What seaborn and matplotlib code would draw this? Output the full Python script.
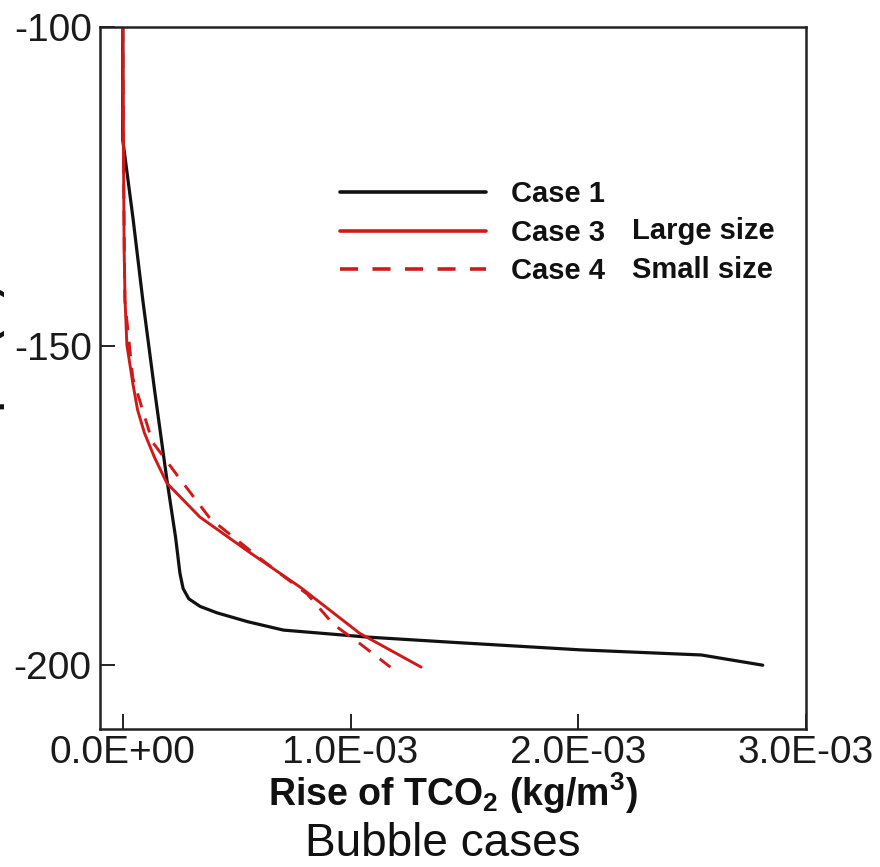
import matplotlib
matplotlib.use("Agg")
import matplotlib.pyplot as plt
import seaborn as sns
import pandas as pd
from matplotlib.ticker import FixedLocator, FixedFormatter

# ---- data ----
case1_depth = [-100.0, -117.7, -130.0, -142.8, -157.0, -171.0, -180.0, -185.6, -188.0, -189.6,
               -190.8, -191.8, -193.2, -194.5, -195.6, -196.4, -197.6, -198.4, -200.0]
case1_rise = [0.0, 0.0, 0.045e-3, 0.088e-3, 0.14e-3, 0.194e-3, 0.232e-3, 0.251e-3, 0.265e-3, 0.29e-3,
              0.34e-3, 0.414e-3, 0.55e-3, 0.705e-3, 1.075e-3, 1.44e-3, 2.01e-3, 2.54e-3, 2.81e-3]

case3_depth = [-100.0, -119.3, -135.0, -142.8, -149.8, -155.8, -160.0, -163.6, -167.5, -171.5,
               -176.8, -182.4, -187.8, -195.0, -200.3]
case3_rise = [0.0, 0.003e-3, 0.006e-3, 0.010e-3, 0.018e-3, 0.044e-3, 0.065e-3, 0.095e-3, 0.14e-3, 0.194e-3,
              0.339e-3, 0.56e-3, 0.78e-3, 1.04e-3, 1.31e-3]

case4_depth = [-100.0, -120.0, -142.8, -155.0, -165.0, -170.2, -177.0, -183.3, -188.9,
               -193.6, -196.7, -200.3]
case4_rise = [0.0, 0.003e-3, 0.009e-3, 0.044e-3, 0.13e-3, 0.238e-3, 0.383e-3, 0.604e-3, 0.811e-3,
              0.925e-3, 1.044e-3, 1.175e-3]

case_labels = ["Case 1", "Case 3", "Case 4"]
size_notes = ["Large size", "Small size"]
x_ticks = [0.0, 1.0e-3, 2.0e-3, 3.0e-3]
x_tick_labels = ["0.0E+00", "1.0E-03", "2.0E-03", "3.0E-03"]
y_ticks = [-100, -150, -200]
y_tick_labels = ["-100", "-150", "-200"]
x_label = "Rise of TCO$_\\mathbf{2}$ (kg/m$^\\mathbf{3}$)"
y_label = "Depth (m)"
caption = "Bubble cases"

df = pd.concat([
    pd.DataFrame({"rise": case1_rise, "depth": case1_depth, "case": case_labels[0]}),
    pd.DataFrame({"rise": case3_rise, "depth": case3_depth, "case": case_labels[1]}),
    pd.DataFrame({"rise": case4_rise, "depth": case4_depth, "case": case_labels[2]}),
], ignore_index=True)

sns.set_style("ticks")
plt.rcParams["font.family"] = ["Liberation Sans", "DejaVu Sans"]
plt.rcParams["mathtext.fontset"] = "custom"
plt.rcParams["mathtext.rm"] = "Liberation Sans"
plt.rcParams["mathtext.bf"] = "Liberation Sans:bold"
plt.rcParams["text.color"] = "#111111"
plt.rcParams["axes.labelcolor"] = "#111111"

fig = plt.figure(figsize=(8.8, 8.67), dpi=100)
ax = fig.add_axes([100 / 880, 1 - 729 / 867, 706 / 880, 702 / 867])

red = "#cf1a1a"
styles = {
    case_labels[0]: dict(color="#111111", lw=2.3),
    case_labels[1]: dict(color=red, lw=2.1),
    case_labels[2]: dict(color=red, lw=2.1, dashes=(5, 4)),
}
for lab in case_labels:
    sub = df[df["case"] == lab]
    st = styles[lab]
    line_kw = {"dashes": st["dashes"]} if "dashes" in st else {}
    sns.lineplot(data=sub, x="rise", y="depth", sort=False, estimator=None,
                 color=st["color"], linewidth=st["lw"], label=lab, ax=ax, **line_kw)

ax.set_xlim(-1.0e-4, 3.0e-3)
ax.set_ylim(-210, -100)
ax.xaxis.set_major_locator(FixedLocator(x_ticks))
ax.xaxis.set_major_formatter(FixedFormatter(x_tick_labels))
ax.yaxis.set_major_locator(FixedLocator(y_ticks))
ax.yaxis.set_major_formatter(FixedFormatter(y_tick_labels))
ax.tick_params(direction="in", length=11, width=1.4, labelsize=28, pad=6,
               color="#222222", labelcolor="#1a1a1a")
ax.tick_params(axis="x", pad=4)
for s in ax.spines.values():
    s.set_linewidth(1.8)
    s.set_color("#222222")

ax.set_xlabel(x_label, fontsize=27, fontweight="bold", labelpad=0)
ax.set_ylabel(y_label, fontsize=27, fontweight="bold")
ax.yaxis.set_label_coords(-0.135, 0.51)

leg = ax.legend(loc="upper left", bbox_to_anchor=(0.34, 0.7815), frameon=False,
                handlelength=5.0, handletextpad=0.85, labelspacing=0.36,
                borderpad=0, borderaxespad=0,
                prop={"family": "Liberation Sans", "weight": "bold", "size": 21})
for h in leg.get_lines():
    h.set_linewidth(2.6)
ax.text(0.7535, 0.709, size_notes[0], transform=ax.transAxes, fontsize=21,
        fontweight="bold", va="center", ha="left")
ax.text(0.7535, 0.654, size_notes[1], transform=ax.transAxes, fontsize=21,
        fontweight="bold", va="center", ha="left")

fig.text(443 / 880, 1 - 856 / 867, caption, fontsize=33, ha="center", va="baseline")

fig.savefig("out.png", dpi=100)
